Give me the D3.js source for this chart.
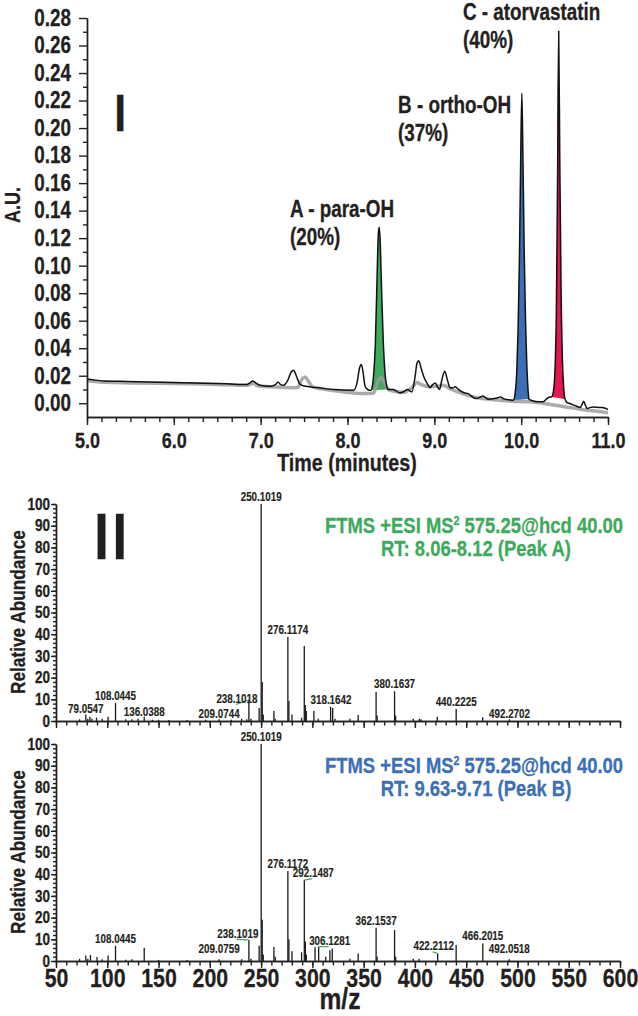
<!DOCTYPE html>
<html>
<head>
<meta charset="utf-8">
<script src="https://cdn.jsdelivr.net/npm/d3@7"></script>
<style>
  body { margin: 0; background: #fff; }
  svg text { font-family: "Liberation Sans", Arial, sans-serif; font-weight: bold; fill: #231f20; stroke: #231f20; stroke-width: 0.3px; }
  .axis path, .axis line { stroke: #231f20; stroke-width: 1.4; }
</style>
</head>
<body>
<svg id="chart" width="638" height="1016"></svg>
<script>
// ---- Chromatogram (panel I) ----
const chromTime = [5.00, 5.10, 5.20, 5.46, 5.84, 6.22, 6.61, 6.84, 6.88, 6.91, 6.95, 6.99, 7.11, 7.17, 7.20, 7.23, 7.26, 7.31, 7.35, 7.38,
    7.41, 7.45, 7.50, 7.65, 7.84, 8.07, 8.11, 8.14, 8.16, 8.18, 8.20, 8.22, 8.25,
    8.27, 8.29, 8.30, 8.32, 8.34, 8.355, 8.365, 8.375, 8.39, 8.41, 8.43, 8.45, 8.47,
    8.53, 8.60, 8.65, 8.69, 8.74, 8.78, 8.80, 8.82, 8.85, 8.88, 8.92, 8.95, 8.98, 9.01, 9.04, 9.06, 9.09, 9.12, 9.15, 9.18,
    9.21, 9.24, 9.27, 9.30, 9.35, 9.39, 9.42, 9.48, 9.53, 9.56, 9.59, 9.62, 9.69, 9.73, 9.76, 9.80, 9.83, 9.87,
    9.91, 9.93, 9.95, 9.965, 9.98, 9.995, 10.008, 10.02, 10.035, 10.05, 10.065, 10.08, 10.09,
    10.13, 10.18, 10.25, 10.29, 10.31, 10.33,
    10.35, 10.37, 10.39, 10.405, 10.42, 10.432, 10.445, 10.46, 10.475, 10.49, 10.505,
    10.53, 10.56, 10.64, 10.68, 10.70, 10.72, 10.74, 10.76, 10.80, 10.83, 10.91, 10.96, 11.00];
const chromSample = [0.0175, 0.0168, 0.0162, 0.0158, 0.0153, 0.0148, 0.0141, 0.0136, 0.0150, 0.0162, 0.0145, 0.0131, 0.0124, 0.0135, 0.0155, 0.0135, 0.0130, 0.0165, 0.0225, 0.0240,
    0.0200, 0.0140, 0.0125, 0.0114, 0.0099, 0.0095, 0.0150, 0.0260, 0.0281, 0.0220, 0.0130, 0.0107, 0.0095,
    0.0095, 0.0140, 0.0200, 0.0420, 0.0900, 0.1230, 0.1280, 0.1200, 0.0880, 0.0480, 0.0240, 0.0130, 0.0100,
    0.0099, 0.0075, 0.0085, 0.0099, 0.0082, 0.0200, 0.0290, 0.0308, 0.0250, 0.0190, 0.0140, 0.0114, 0.0135, 0.0148, 0.0115, 0.0099, 0.0180, 0.0233, 0.0170, 0.0114,
    0.0110, 0.0119, 0.0105, 0.0090, 0.0075, 0.0070, 0.0056, 0.0034, 0.0045, 0.0053, 0.0040, 0.0029, 0.0034, 0.0040, 0.0046, 0.0032, 0.0027, 0.0024,
    0.0022, 0.0070, 0.0240, 0.0550, 0.1050, 0.1800, 0.2255, 0.1800, 0.1100, 0.0600, 0.0280, 0.0090, 0.0030,
    0.0018, 0.0010, 0.0010, 0.0030, 0.0040, 0.0045,
    0.0046, 0.0080, 0.0250, 0.0650, 0.1700, 0.2705, 0.1750, 0.0800, 0.0320, 0.0110, 0.0030,
    0.0005, -0.0002, -0.0022, -0.0031, -0.0010, 0.0015, -0.0015, -0.0039, -0.0030, -0.0027, -0.0031, -0.0035, -0.0046];

const blankTime = [5.00, 5.20, 5.50, 6.00, 6.50, 6.85, 6.91, 6.97, 7.20, 7.35, 7.43, 7.47, 7.51, 7.55, 7.60, 7.70, 7.85, 8.00, 8.20, 8.30,
    8.36, 8.39, 8.42, 8.47, 8.55, 8.65, 8.75, 8.80, 8.85, 8.95, 9.05, 9.10, 9.20, 9.35, 9.50, 9.70, 9.90, 10.10, 10.30, 10.50,
    10.70, 10.90, 11.00];
const chromBlank = [0.0165, 0.0152, 0.0148, 0.0143, 0.0137, 0.0130, 0.0145, 0.0125, 0.0118, 0.0112, 0.0115, 0.0170, 0.0190, 0.0160, 0.0118, 0.0105, 0.0090, 0.0080, 0.0070, 0.0075,
    0.0170, 0.0187, 0.0160, 0.0100, 0.0085, 0.0080, 0.0120, 0.0150, 0.0135, 0.0120, 0.0125, 0.0130, 0.0100, 0.0065, 0.0040, 0.0025, 0.0015, 0.0010, -0.0005, -0.0025,
    -0.0045, -0.0060, -0.0070];

const peakNames = ['A - para-OH', 'B - ortho-OH', 'C - atorvastatin'];
const peakShares = ['(20%)', '(37%)', '(40%)'];
const peakStart = [8.27, 9.91, 10.35];
const peakEnd = [8.47, 10.09, 10.505];

// ---- MS2 spectra (panel II) ----
const msA_mz = [73.0, 79.05, 81.0, 83.05, 85.0, 89.5, 95.0, 100.8, 108.04, 118.0, 124.0, 130.0, 136.04, 144.0, 150.0, 160.0, 178.0, 196.0,
    209.07, 221.0, 231.0, 236.1, 238.10, 240.1, 248.1, 250.10, 251.10, 252.1, 262.5, 263.8, 276.12, 277.12, 280.1, 289.5, 292.12, 293.12,
    294.1, 301.5, 305.7, 317.8, 319.8, 322.0, 336.6, 344.7, 362.15, 363.15, 380.16, 381.16, 398.4, 404.3, 406.0, 421.8, 440.22, 466.1, 492.27];
const msA_int = [0.8, 3.0, 1.0, 2.0, 1.0, 1.5, 1.0, 2.0, 8.3, 0.8, 0.8, 1.0, 2.0, 0.6, 0.5, 0.5, 0.5, 0.6,
    0.8, 0.6, 1.0, 0.8, 9.7, 1.0, 6.0, 100, 18, 3.0, 4.6, 1.0, 38.7, 9.2, 3.0, 1.5, 34.6, 7.4,
    4.6, 4.6, 1.0, 6.5, 6.0, 1.0, 1.0, 2.8, 13.4, 2.5, 13.7, 2.5, 1.0, 1.0, 0.8, 2.0, 5.5, 1.7, 0.8];
const msA_labels = ['79.0547', '108.0445', '136.0388', '209.0744', '238.1018', '250.1019', '276.1174', '318.1642', '380.1637', '440.2225', '492.2702'];

const msB_mz = [73.0, 79.05, 81.0, 83.6, 90.0, 95.0, 100.8, 108.04, 118.0, 124.0, 136.04, 150.0, 178.0, 209.08, 231.0, 238.10, 240.1,
    248.1, 250.10, 251.10, 252.1, 262.5, 263.8, 276.12, 277.12, 280.1, 289.5, 292.15, 293.15, 294.1, 302.6, 306.13, 313.0, 317.1,
    319.4, 336.6, 344.7, 362.15, 363.15, 380.16, 381.16, 398.4, 404.0, 422.21, 440.2, 466.2, 492.05];
const msB_int = [1.0, 2.5, 1.0, 2.8, 1.8, 0.8, 2.5, 7.0, 0.6, 0.8, 6.1, 0.5, 0.5, 0.8, 0.8, 9.7, 1.0,
    7.0, 100, 19, 3.0, 6.5, 2.0, 41.5, 10, 4.5, 4.0, 37.3, 9.0, 3.0, 6.3, 6.6, 2.0, 5.0,
    5.8, 1.0, 3.5, 15.3, 2.0, 14.3, 2.0, 1.0, 1.0, 3.5, 7.4, 8.1, 0.8];
const msB_labels = ['108.0445', '209.0759', '238.1019', '250.1019', '276.1172', '292.1487', '306.1281', '362.1537', '422.2112', '466.2015', '492.0518'];

// label nudges (px) and which labels get a green leader line
const msA_nudge = { '79.0547': [0, 2], '136.0388': [0, 2], '209.0744': [0, 1.5], '238.1018': [-12, 6], '492.2702': [0, 1.5] };
const msB_nudge = { '209.0759': [0, -3], '238.1019': [-11, 1], '292.1487': [9, 0], '306.1281': [11, 1.5], '422.2112': [-4, 0], '492.0518': [0, -3] };
const leaders = ['238.1018', '238.1019', '292.1487', '306.1281', '422.2112'];

const GREEN = '#3daa5c', BLUE = '#3b6fb6', RED = '#e2184f';
const peakColors = [GREEN, BLUE, RED];

// the original face is a bold condensed sans: squeeze Liberation Sans Bold horizontally
const NARROW = 0.82;
function narrow(sel) {
    sel.each(function () {
        const t = d3.select(this);
        const x0 = +(t.attr('x') || 0);
        t.attr('x', x0 / NARROW);
        const tr = t.attr('transform') || '';
        t.attr('transform', (tr + ` scale(${NARROW},1)`).trim());
    });
}

const svg = d3.select('#chart');

// ================= Panel I =================
const x = d3.scaleLinear().domain([5, 11]).range([87, 608]);
const y = d3.scaleLinear().domain([-0.01, 0.28]).range([417, 18]);

const sample = chromTime.map((t, i) => [t, chromSample[i]]);
const blank = blankTime.map((t, i) => [t, chromBlank[i]]);

// filled peaks, closed along a straight baseline
peakStart.forEach((t0, k) => {
    const t1 = peakEnd[k];
    const pts = sample.filter(d => d[0] >= t0 - 1e-9 && d[0] <= t1 + 1e-9);
    const b0 = pts[0][1], b1 = pts[pts.length - 1][1];
    const area = d3.area()
        .x(d => x(d[0]))
        .y0(d => y(b0 + (b1 - b0) * (d[0] - t0) / (t1 - t0)))
        .y1(d => y(d[1]))
        .curve(d3.curveMonotoneX);
    svg.append('path').attr('d', area(pts)).attr('fill', peakColors[k]);
});

const line = d3.line().x(d => x(d[0])).y(d => y(d[1])).curve(d3.curveMonotoneX);

svg.append('path').attr('d', line(blank))
    .attr('fill', 'none').attr('stroke', '#9c9c9c').attr('stroke-width', 3.5)
    .attr('stroke-linejoin', 'round').attr('opacity', 0.85);
svg.append('path').attr('d', line(sample))
    .attr('fill', 'none').attr('stroke', '#111').attr('stroke-width', 1.5)
    .attr('stroke-linejoin', 'round');

// axes
const xMinor = d3.range(0, 37).map(i => 5 + i / 6);
svg.append('g').attr('class', 'axis').attr('transform', 'translate(0,417)')
    .call(d3.axisBottom(x).tickValues(xMinor).tickSize(5).tickSizeOuter(0).tickFormat(''));
svg.append('g').attr('class', 'axis').attr('transform', 'translate(0,417)')
    .call(d3.axisBottom(x).tickValues(d3.range(5, 12)).tickSize(8).tickSizeOuter(0).tickPadding(7).tickFormat(d3.format('.1f')))
    .call(g => g.selectAll('text').style('font-size', '22px').attr('fill', '#231f20').call(narrow));

const yMinor = d3.range(0, 14).map(i => i * 0.02 + 0.01);
svg.append('g').attr('class', 'axis').attr('transform', 'translate(87,0)')
    .call(d3.axisLeft(y).tickValues(yMinor).tickSize(4).tickSizeOuter(0).tickFormat(''));
svg.append('g').attr('class', 'axis').attr('transform', 'translate(87,0)')
    .call(d3.axisLeft(y).tickValues(d3.range(0, 15).map(i => i * 0.02)).tickSize(8).tickSizeOuter(0).tickPadding(8).tickFormat(d3.format('.2f')))
    .call(g => g.selectAll('text').style('font-size', '23px').attr('fill', '#231f20').call(narrow));

svg.append('text').attr('x', 347).attr('y', 471).attr('text-anchor', 'middle')
    .style('font-size', '24px').text('Time (minutes)').call(narrow);
svg.append('text').attr('transform', 'translate(19.5,205) rotate(-90)').attr('text-anchor', 'middle')
    .style('font-size', '22px').text('A.U.').call(narrow);

svg.append('text').attr('x', 114.3).attr('y', 131).style('font-size', '52px').text('I').call(narrow);

// peak annotations, anchored in data units
const peakLabelAt = [[7.338, 0.1353], [8.582, 0.2109], [9.330, 0.2785]];
peakNames.forEach((name, k) => {
    const px = x(peakLabelAt[k][0]), py = y(peakLabelAt[k][1]);
    svg.append('text').attr('x', px).attr('y', py).style('font-size', '23px').text(name).call(narrow);
    svg.append('text').attr('x', px).attr('y', py + 28).style('font-size', '23px').text(peakShares[k]).call(narrow);
});

// ================= Panel II =================
const xm = d3.scaleLinear().domain([50, 600]).range([56, 620]);

function drawSpectrum(mz, inten, labels, nudge, y0, color, rtText, showTicks) {
    const ym = d3.scaleLinear().domain([0, 100]).range([y0, y0 - 217]);
    const g = svg.append('g');

    g.selectAll('line.stick').data(mz).join('line')
        .attr('class', 'stick')
        .attr('x1', d => xm(d)).attr('x2', d => xm(d))
        .attr('y1', ym(0)).attr('y2', (d, i) => ym(inten[i]))
        .attr('stroke', '#1a1a1a').attr('stroke-width', 1.3);

    // axes
    g.append('g').attr('class', 'axis').attr('transform', `translate(0,${y0})`)
        .call(d3.axisBottom(xm).tickValues(d3.range(50, 601, 10)).tickSize(4.5).tickSizeOuter(0).tickFormat(''));
    const xa = g.append('g').attr('class', 'axis').attr('transform', `translate(0,${y0})`)
        .call(d3.axisBottom(xm).tickValues(d3.range(50, 601, 50)).tickSize(7).tickSizeOuter(0).tickPadding(1)
            .tickFormat(showTicks ? d3.format('d') : ''));
    xa.selectAll('text').style('font-size', '26px').attr('fill', '#231f20').call(narrow);

    g.append('g').attr('class', 'axis').attr('transform', 'translate(56,0)')
        .call(d3.axisLeft(ym).tickValues(d3.range(0, 101, 2)).tickSize(3).tickSizeOuter(0).tickFormat(''))
        .call(a => a.selectAll('line').attr('stroke-width', 1));
    g.append('g').attr('class', 'axis').attr('transform', 'translate(56,0)')
        .call(d3.axisLeft(ym).tickValues(d3.range(0, 101, 10)).tickSize(5).tickSizeOuter(0).tickPadding(1))
        .call(a => a.selectAll('text').style('font-size', '16.5px').attr('fill', '#231f20').call(narrow));

    g.append('text').attr('transform', `translate(25,${y0 - 109}) rotate(-90)`).attr('text-anchor', 'middle')
        .style('font-size', '21px').text('Relative Abundance').call(narrow);

    // peak labels
    labels.forEach(lab => {
        const m = +lab;
        let best = 0, bestMz = m;
        mz.forEach((v, i) => { if (Math.abs(v - m) < 2 && inten[i] > best) { best = inten[i]; bestMz = v; } });
        const nd = nudge[lab] || [0, 0];
        const lx = xm(m) + nd[0], ly = ym(best) - 3 + nd[1];
        if (leaders.includes(lab)) {
            g.append('line').attr('x1', lx - 1).attr('y1', ly + 1.5)
                .attr('x2', xm(bestMz)).attr('y2', ym(best))
                .attr('stroke', GREEN).attr('stroke-width', 1.2);
        }
        g.append('text').attr('x', lx).attr('y', ly).attr('text-anchor', 'middle')
            .style('font-size', '12px').style('stroke-width', '0.15px').text(lab).call(narrow);
    });

    // scan header
    const h = g.append('text').attr('x', 474).attr('y', y0 - 188).attr('text-anchor', 'middle')
        .style('font-size', '22.5px').style('fill', color).style('stroke', color);
    h.append('tspan').text('FTMS +ESI MS');
    h.append('tspan').text('2').attr('dy', -8).style('font-size', '13px');
    h.append('tspan').text(' 575.25@hcd 40.00').attr('dy', 8);
    h.call(narrow);
    g.append('text').attr('x', 476).attr('y', y0 - 165).attr('text-anchor', 'middle')
        .style('font-size', '22.5px').style('fill', color).style('stroke', color).text(rtText).call(narrow);
}

drawSpectrum(msA_mz, msA_int, msA_labels, msA_nudge, 721, GREEN, 'RT: 8.06-8.12 (Peak A)', false);
drawSpectrum(msB_mz, msB_int, msB_labels, msB_nudge, 961, BLUE, 'RT: 9.63-9.71 (Peak B)', true);

svg.append('text').attr('x', 94.3).attr('y', 559).style('font-size', '64px').style('letter-spacing', '4.5px').text('II').call(narrow);
svg.append('text').attr('x', 340).attr('y', 1009).attr('text-anchor', 'middle').style('font-size', '30px').text('m/z').call(narrow);
</script>
</body>
</html>
